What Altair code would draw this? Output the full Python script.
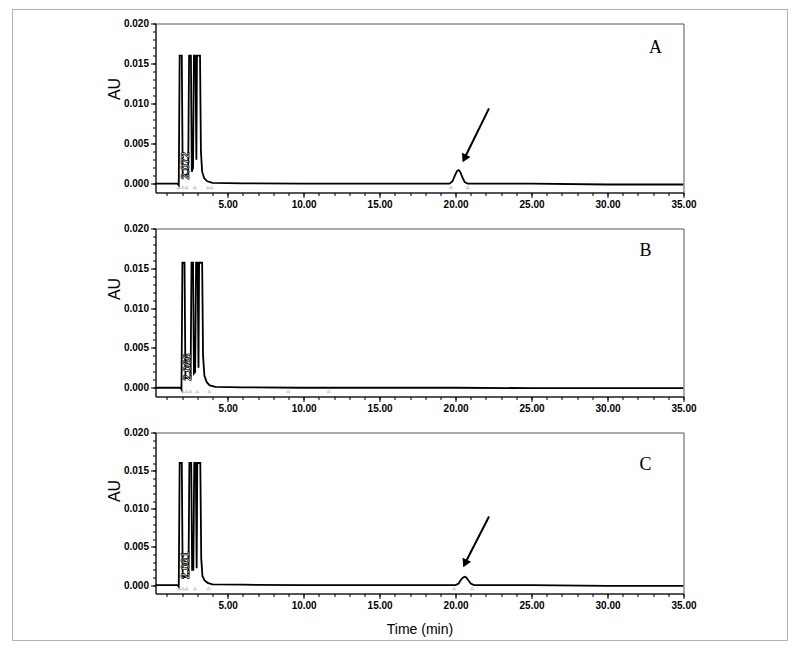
import altair as alt
import pandas as pd

# ---------------- data ----------------
# Panel A trace (time in min, absorbance in AU); peaks saturate at ~0.016
time_a = [0.25, 1.70, 1.78, 1.84, 1.98, 2.04, 2.40, 2.46, 2.58, 2.64, 2.72, 2.78, 2.88,
          2.94, 2.98, 3.18, 3.24, 3.32, 3.45, 3.65, 4.0, 6.0, 10.0, 15.0, 19.6, 19.8,
          19.95, 20.1, 20.2, 20.3, 20.45, 20.6, 20.8, 25.0, 30.0, 35.0]
au_a = [0.0, 0.0, -0.0002, 0.016, 0.016, 0.0010, 0.0012, 0.016, 0.016, 0.0015, 0.0020,
        0.016, 0.016, 0.0030, 0.016, 0.016, 0.0040, 0.0015, 0.0007, 0.0003, 0.0001,
        0.00005, 0.0, 0.0, 0.0, 0.0003, 0.0010, 0.0016, 0.0017, 0.0015, 0.0008, 0.0002,
        0.0, 0.0, -0.0001, -0.0001]

# Panel B trace
time_b = [0.25, 1.90, 1.96, 2.02, 2.16, 2.22, 2.56, 2.62, 2.72, 2.78, 2.86, 2.92, 3.02,
          3.08, 3.12, 3.32, 3.38, 3.47, 3.62, 3.82, 4.2, 6.0, 10.0, 15.0, 20.0, 25.0,
          30.0, 35.0]
au_b = [0.0, 0.0, -0.0002, 0.0157, 0.0157, 0.0012, 0.0012, 0.0157, 0.0157, 0.0018,
        0.0020, 0.0157, 0.0157, 0.0025, 0.0157, 0.0157, 0.0040, 0.0015, 0.0007, 0.0003,
        0.0001, 0.00005, 0.0, 0.0, 0.0, -0.00005, -0.00005, -0.00005]

# Panel C trace
time_c = [0.25, 1.70, 1.78, 1.84, 1.98, 2.04, 2.42, 2.48, 2.60, 2.66, 2.74, 2.80, 2.90,
          2.96, 3.00, 3.20, 3.26, 3.34, 3.48, 3.68, 4.0, 6.0, 10.0, 15.0, 20.0, 20.2,
          20.35, 20.5, 20.6, 20.7, 20.85, 21.0, 21.2, 25.0, 30.0, 35.0]
au_c = [0.0, 0.0, -0.0002, 0.016, 0.016, 0.0010, 0.0012, 0.016, 0.016, 0.0020, 0.0020,
        0.016, 0.016, 0.0022, 0.016, 0.016, 0.0035, 0.0012, 0.0006, 0.0003, 0.0001,
        0.00005, 0.0, 0.0, 0.0, 0.0002, 0.0007, 0.0010, 0.0011, 0.0010, 0.0006, 0.0002,
        0.0, 0.0, -0.0001, -0.0001]

# Integration markers (small gray triangles under the baseline)
mark_time_a = [1.78, 2.05, 2.30, 2.83, 3.70, 3.95, 19.7, 20.8]
mark_time_b = [2.05, 2.30, 2.55, 3.00, 3.80, 9.0, 11.65]
mark_time_c = [1.80, 2.05, 2.30, 2.85, 3.75, 19.9, 21.1]

# Retention-time labels
rt_label = ["2.072", "2.066", "2.061"]
rt_label_time = [2.24, 2.40, 2.24]
rt_label_au = [0.00225, 0.0026, 0.0026]

# Arrows (tail -> head), panels A and C
arrow_tail_time = [22.2, 22.2]
arrow_tail_au = [0.0094, 0.0090]
arrow_head_time = [20.62, 20.66]
arrow_head_au = [0.0033, 0.0030]

panel_letters = ["A", "B", "C"]

X_DOMAIN = [0.25, 35.0]
Y_DOMAIN = [-0.0011, 0.020]
x_major = [5, 10, 15, 20, 25, 30, 35]
x_minor = list(range(1, 36))
y_major = [0.0, 0.005, 0.010, 0.015, 0.020]
y_minor = [i / 1000 for i in range(0, 21)]

FONT = "Liberation Sans"
LABEL_STYLE = dict(labelFont=FONT, labelFontSize=10, labelFontWeight="bold",
                   labelColor="black", domainColor="black", tickColor="black",
                   grid=False, labelPadding=2, labelFlush=False)


def x_major_axis(title):
    kw = dict(values=x_major, format=".2f", tickSize=5, orient="bottom", **LABEL_STYLE)
    if title:
        kw.update(title=title, titleFont=FONT, titleFontSize=14, titleFontWeight="normal",
                  titleColor="black", titlePadding=12)
    else:
        kw.update(title=None)
    return alt.Axis(**kw)


def y_major_axis(title_y):
    return alt.Axis(values=y_major, format=".3f", tickSize=5, orient="left",
                    title="AU", titleFont=FONT, titleFontSize=16,
                    titleFontWeight="normal", titleColor="black", titleX=-33,
                    titleY=title_y, **LABEL_STYLE)


x_minor_axis = alt.Axis(values=x_minor, labels=False, tickSize=3, orient="bottom",
                        domain=False, grid=False, tickColor="black", title=None)
y_minor_axis = alt.Axis(values=y_minor, labels=False, tickSize=3, orient="left",
                        domain=False, grid=False, tickColor="black", title=None)


def panel(times, aus, marks, idx, height, title_y, letter_pos, x_title=None, arrow=None,
          border=False):
    df = pd.DataFrame({"time": times, "au": aus})
    line = alt.Chart(df).mark_line(color="black", strokeWidth=1.8, clip=True).encode(
        x=alt.X("time:Q", scale=alt.Scale(domain=X_DOMAIN, nice=False, zero=False),
                axis=x_major_axis(x_title)),
        y=alt.Y("au:Q", scale=alt.Scale(domain=Y_DOMAIN, nice=False, zero=False),
                axis=y_major_axis(title_y)))

    mdf = pd.DataFrame({"time": marks, "au": [-0.00045] * len(marks)})
    tri = alt.Chart(mdf).mark_point(shape="triangle-up", size=10, color="#888",
                                    strokeWidth=0.6).encode(
        x=alt.X("time:Q", axis=x_minor_axis), y=alt.Y("au:Q", axis=y_minor_axis))

    ldf = pd.DataFrame({"label": [rt_label[idx]], "time": [rt_label_time[idx]],
                        "au": [rt_label_au[idx]]})
    lab = alt.Chart(ldf).mark_text(angle=270, fontSize=11, fontWeight="bold", font=FONT,
                                   fill="white", stroke="black", strokeWidth=0.7).encode(
        x=alt.X("time:Q", axis=None), y=alt.Y("au:Q", axis=None), text="label:N")

    letter = alt.Chart(pd.DataFrame({"t": [panel_letters[idx]]})).mark_text(
        font="Liberation Serif", fontSize=18, color="black"
    ).encode(x=alt.value(letter_pos[0]), y=alt.value(letter_pos[1]), text="t:N")

    layers = [line, tri, lab, letter]

    if arrow is not None:
        adf = pd.DataFrame({"x": [arrow_tail_time[arrow]], "y": [arrow_tail_au[arrow]],
                            "x2": [arrow_head_time[arrow]], "y2": [arrow_head_au[arrow]]})
        shaft = alt.Chart(adf).mark_rule(color="black", strokeWidth=2).encode(
            x=alt.X("x:Q", axis=None), y=alt.Y("y:Q", axis=None), x2="x2:Q", y2="y2:Q")
        head = alt.Chart(adf).mark_point(shape="triangle", size=90, filled=True,
                                         color="black", opacity=1, angle=206).encode(
            x=alt.X("x2:Q", axis=None), y=alt.Y("y2:Q", axis=None))
        layers += [shaft, head]

    if border:
        box = alt.Chart(pd.DataFrame({"a": [0]})).mark_rect(
            fillOpacity=0, stroke="#b0b0b0", strokeWidth=1
        ).encode(x=alt.value(-143), x2=alt.value(632), y=alt.value(-14), y2=alt.value(617))
        layers = [box] + layers

    return alt.layer(*layers).resolve_axis(x="independent", y="independent").properties(
        width=528, height=height)


pa = panel(time_a, au_a, mark_time_a, 0, 169, 65, (500, 24), arrow=0, border=True)
pb = panel(time_b, au_b, mark_time_b, 1, 168, 60, (490, 22))
pc = panel(time_c, au_c, mark_time_c, 2, 161, 58, (490, 32), x_title="Time (min)", arrow=1)

chart = alt.vconcat(pa, pb, pc, spacing=36, bounds="flush").properties(
    padding={"left": 3.5, "top": 0.5, "right": 2, "bottom": 2},
    background="white",
).configure_view(stroke="#555", strokeWidth=1)

chart.save("out.html", embed_options={"renderer": "svg", "actions": False})
